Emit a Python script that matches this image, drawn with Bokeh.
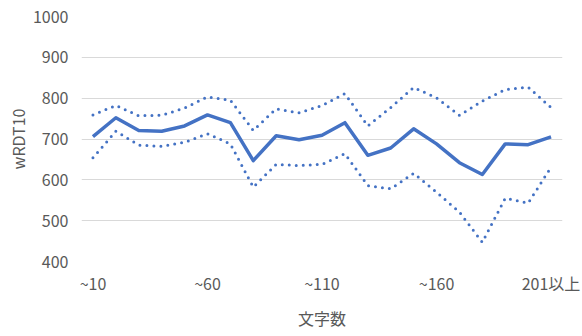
from bokeh.plotting import figure
from bokeh.models import Range1d, FixedTicker
from bokeh.embed import file_html
from bokeh.resources import INLINE

# Character-count buckets
categories = ["~10", "~20", "~30", "~40", "~50", "~60", "~70", "~80", "~90", "~100",
              "~110", "~120", "~130", "~140", "~150", "~160", "~170", "~180", "~190", "~200",
              "201以上"]
shown_labels = ["~10", "~60", "~110", "~160", "201以上"]

# wRDT10 mean and upper / lower bands
mean_vals = [706, 752, 721, 719, 732, 759, 740, 647, 708, 698,
             709, 740, 660, 678, 725, 688, 642, 613, 688, 686, 705]
upper_vals = [759, 782, 757, 758, 776, 803, 795, 721, 774, 764,
              782, 811, 732, 777, 826, 801, 758, 793, 821, 827, 777]
lower_vals = [654, 719, 685, 682, 692, 713, 688, 582, 638, 635,
              638, 664, 586, 578, 616, 570, 521, 447, 555, 543, 631]

y_ticks = [400, 500, 600, 700, 800, 900, 1000]

BLUE = "#4472C4"
GREY = "#595959"
FONT = "Noto Sans CJK JP"

# bucket positions on the category axis
xs = list(range(len(categories)))

p = figure(width=582, height=336, output_backend="svg", toolbar_location=None,
           x_range=Range1d(-0.5, len(categories) - 0.5),
           y_range=Range1d(400, 1000),
           min_border_left=81, min_border_right=20, min_border_top=16, min_border_bottom=75)
p.outline_line_color = None
p.background_fill_color = "white"
p.border_fill_color = "white"

p.line(xs, upper_vals, line_color=BLUE, line_width=3, line_dash="0 7", line_cap="round")
p.line(xs, lower_vals, line_color=BLUE, line_width=3, line_dash="0 7", line_cap="round")
p.line(xs, mean_vals, line_color=BLUE, line_width=3.5, line_join="round")

# y axis
p.yaxis.ticker = FixedTicker(ticks=y_ticks)
p.yaxis.axis_line_color = None
p.yaxis.major_tick_line_color = None
p.yaxis.minor_tick_line_color = None
p.yaxis.major_label_standoff = 7
p.yaxis.major_label_text_font = FONT
p.yaxis.major_label_text_font_size = "16px"
p.yaxis.major_label_text_color = GREY
p.yaxis.axis_label = "wRDT10"
p.yaxis.axis_label_text_font = FONT
p.yaxis.axis_label_text_font_size = "16px"
p.yaxis.axis_label_text_font_style = "normal"
p.yaxis.axis_label_text_color = GREY
p.yaxis.axis_label_standoff = 0

# x axis: label only every fifth bucket
shown_idx = [categories.index(c) for c in shown_labels]
p.xaxis.ticker = FixedTicker(ticks=shown_idx)
p.xaxis.major_label_overrides = {i: categories[i] for i in shown_idx}
p.xaxis.axis_line_color = None
p.xaxis.major_tick_line_color = None
p.xaxis.minor_tick_line_color = None
p.xaxis.major_label_standoff = 3
p.xaxis.major_label_text_font = FONT
p.xaxis.major_label_text_font_size = "16px"
p.xaxis.major_label_text_color = GREY
p.xaxis.axis_label = "文字数"
p.xaxis.axis_label_text_font = FONT
p.xaxis.axis_label_text_font_size = "16px"
p.xaxis.axis_label_text_font_style = "normal"
p.xaxis.axis_label_text_color = GREY
p.xaxis.axis_label_standoff = 8

p.xgrid.grid_line_color = None
p.ygrid.grid_line_color = "#D9D9D9"
p.ygrid.grid_line_width = 1

open("out.html", "w").write(file_html(p, INLINE))
